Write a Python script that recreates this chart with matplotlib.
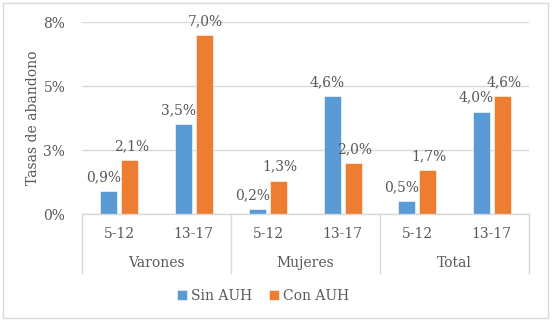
import matplotlib
matplotlib.use("Agg")
import matplotlib.pyplot as plt
from matplotlib.patches import Rectangle
from matplotlib.transforms import blended_transform_factory
import numpy as np

groups = ["Varones", "Mujeres", "Total"]
ages = ["5-12", "13-17", "5-12", "13-17", "5-12", "13-17"]
sin_auh = [0.9, 3.5, 0.2, 4.6, 0.5, 4.0]
con_auh = [2.1, 7.0, 1.3, 2.0, 1.7, 4.6]
yticks = [0, 2.5, 5, 7.5]
ytick_labels = ["0%", "3%", "5%", "8%"]
series_names = ["Sin AUH", "Con AUH"]
ylabel = "Tasas de abandono"

BLUE = "#5B9BD5"
ORANGE = "#ED7D31"
TXT = "#595959"
GRID = "#D9D9D9"
FONT = "DejaVu Serif"
plt.rcParams["font.family"] = [FONT, "DejaVu Sans"]

W, H = 552, 325
fig = plt.figure(figsize=(W / 100, H / 100), dpi=100)

# chart border
fig.patches.append(Rectangle((3 / W, 1 - 318 / H), 545 / W, 315 / H,
                             transform=fig.transFigure, fill=False,
                             edgecolor=GRID, linewidth=1.0))

left, right = 82 / W, 529 / W
bottom, top = 1 - 214 / H, 1 - 22 / H
ax = fig.add_axes([left, bottom, right - left, top - bottom])

x = np.arange(len(ages))
bw = 0.23
off = 0.14
b1 = ax.bar(x - off, sin_auh, bw, color=BLUE, edgecolor="white", linewidth=0.4, zorder=3, label=series_names[0])
b2 = ax.bar(x + off, con_auh, bw, color=ORANGE, edgecolor="white", linewidth=0.4, zorder=3, label=series_names[1])

def fmt(v):
    return f"{v:.1f}%".replace(".", ",")

for xi, v in zip(x, sin_auh):
    ax.annotate(fmt(v), (xi - off - 0.07, v), xytext=(0, 5), textcoords="offset points",
                ha="center", va="bottom", fontsize=10, color=TXT, fontfamily=FONT)
for xi, v in zip(x, con_auh):
    ax.annotate(fmt(v), (xi + off + 0.02, v), xytext=(0, 5), textcoords="offset points",
                ha="center", va="bottom", fontsize=10, color=TXT, fontfamily=FONT)

ax.set_xlim(-0.5, len(ages) - 0.5)
ax.set_ylim(0, 7.5)
ax.set_yticks(yticks)
ax.set_yticklabels(ytick_labels, fontsize=10, color=TXT, fontfamily=FONT)
ax.tick_params(axis="y", length=0, pad=12)
ax.set_xticks([])
for s in ax.spines.values():
    s.set_visible(False)
ax.grid(axis="y", color=GRID, linewidth=1.0, zorder=0)
ax.set_axisbelow(True)
ax.set_ylabel(ylabel, fontsize=10, color=TXT, fontfamily=FONT, labelpad=8)
ax.yaxis.set_label_coords(-(82 - 40) / 447, 0.5)

# category axis
tr = blended_transform_factory(ax.transData, ax.transAxes)
ax.plot([-0.5, len(ages) - 0.5], [0, 0], color=GRID, lw=1.0, transform=tr, clip_on=False, zorder=4)
ylow = -59 / 192
for gx in [-0.5, 1.5, 3.5, 5.5]:
    ax.plot([gx, gx], [0, ylow], color=GRID, lw=1.0, transform=tr, clip_on=False)
for xi, a in zip(x, ages):
    ax.text(xi, -20 / 192, a, transform=tr, ha="center", va="center",
            fontsize=10, color=TXT, fontfamily=FONT)
for gi, g in enumerate(groups):
    ax.text(2 * gi + 0.5, -49 / 192, g, transform=tr, ha="center", va="center",
            fontsize=10, color=TXT, fontfamily=FONT)

leg = fig.legend(handles=[b1, b2], loc="center", bbox_to_anchor=(263 / W, 1 - 296 / H),
                 ncol=2, frameon=False, fontsize=10, handlelength=0.7, handleheight=0.7,
                 handletextpad=0.3, columnspacing=1.2)
for t in leg.get_texts():
    t.set_color(TXT)

fig.savefig("out.png", dpi=100)
